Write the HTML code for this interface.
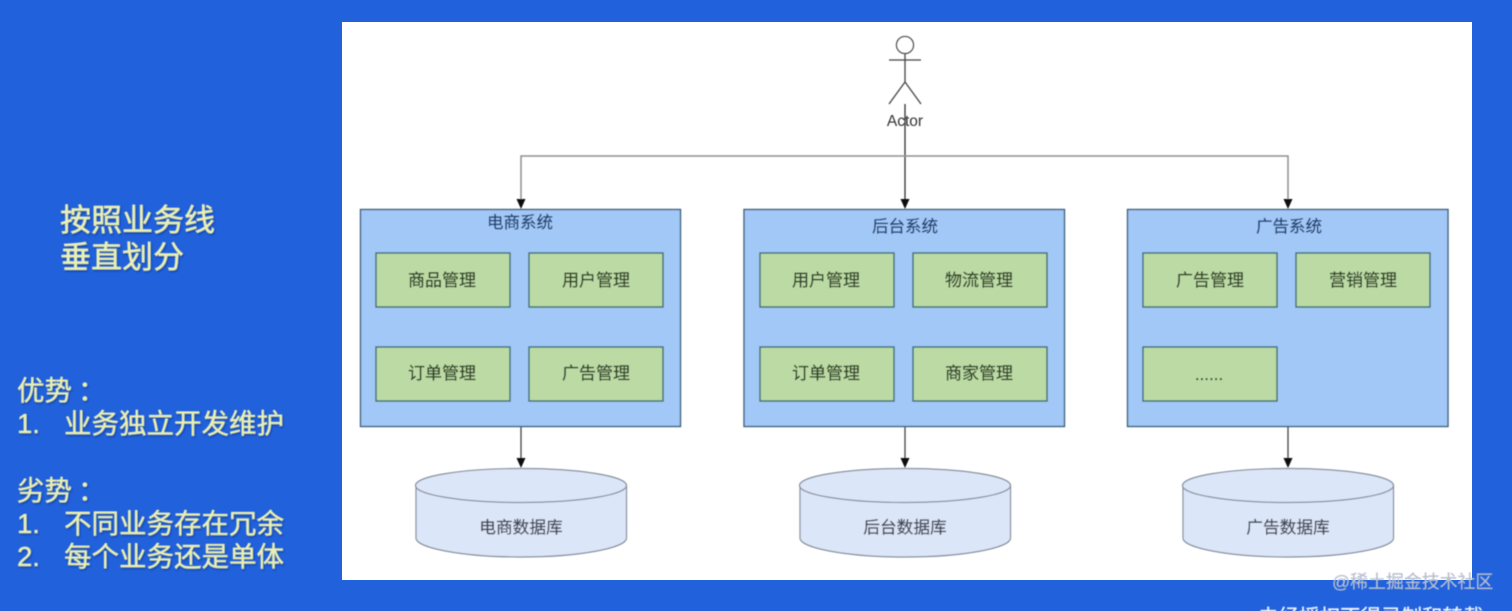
<!DOCTYPE html>
<html lang="zh">
<head>
<meta charset="utf-8">
<style>
html,body{margin:0;padding:0;width:1512px;height:611px;overflow:hidden;background:#2161dc}
svg{display:block;position:absolute;left:0;top:0}
text{font-family:"Liberation Sans","Noto Sans CJK SC",sans-serif}
.lt{fill:#e9f0b4;font-size:27.500px;stroke:#e9f0b4;stroke-width:.35px}
.ti{fill:#e9f0b4;font-size:31px;stroke:#e9f0b4;stroke-width:.45px}
.sh{filter:url(#shadow)}
.sys{fill:#1d3f6e;font-size:16.500px;text-anchor:middle;stroke:#1d3f6e;stroke-width:.25px}
.mod{fill:#2f4028;font-size:17px;text-anchor:middle;stroke:#2f4028;stroke-width:.25px}
.db{fill:#3f4450;font-size:16.700px;text-anchor:middle;stroke:#3f4450;stroke-width:.2px}
</style>
</head>
<body>
<svg width="1512" height="611" viewBox="0 0 1512 611" xmlns="http://www.w3.org/2000/svg">
<defs>
<filter id="shadow" x="-5%" y="-5%" width="110%" height="110%">
<feGaussianBlur in="SourceAlpha" stdDeviation="1.100" result="bl"/>
<feOffset in="bl" dx="1" dy="1.500" result="off"/>
<feFlood flood-color="#0b2d70" flood-opacity="0.6"/>
<feComposite in2="off" operator="in" result="shade"/>
<feGaussianBlur in="SourceGraphic" stdDeviation="0.4" result="txt"/>
<feMerge><feMergeNode in="shade"/><feMergeNode in="txt"/></feMerge>
</filter>
<filter id="b" x="-5%" y="-5%" width="110%" height="110%"><feGaussianBlur stdDeviation="0.45"/></filter>
</defs>
<rect x="0" y="0" width="1512" height="611" fill="#2161dc"/>
<rect x="342" y="22" width="1130" height="558" fill="#ffffff"/>

<g class="sh">
<text class="ti" x="60" y="231">按照业务线</text>
<text class="ti" x="60" y="268">垂直划分</text>

<text class="lt" x="17" y="400">优势</text>
<text class="lt" x="78" y="400">：</text>
<text class="lt" x="17" y="433">1.</text>
<text class="lt" x="64" y="433">业务独立开发维护</text>
<text class="lt" x="17" y="500">劣势</text>
<text class="lt" x="78" y="500">：</text>
<text class="lt" x="17" y="533">1.</text>
<text class="lt" x="64" y="533">不同业务存在冗余</text>
<text class="lt" x="17" y="566">2.</text>
<text class="lt" x="64" y="566">每个业务还是单体</text>
</g>

<g filter="url(#b)">
<!-- Actor -->
<circle cx="905" cy="45" r="8.500" fill="#fff" stroke="#444" stroke-width="1.300"/>
<path d="M905 54V82M889 60H921M905 82L889 104M905 82L921 104" fill="none" stroke="#444" stroke-width="1.300"/>
<text x="905" y="126" font-size="15.500" fill="#333" text-anchor="middle">Actor</text>

<!-- Connectors -->
<path d="M905 104V202" fill="none" stroke="#333" stroke-width="1.300"/>
<path d="M521 200V156H1288V200" fill="none" stroke="#8f8f8f" stroke-width="1.500"/>
<path d="M516.500 199L521 209L525.500 199Z" fill="#111"/>
<path d="M900.500 199L905 209L909.500 199Z" fill="#111"/>
<path d="M1283.500 199L1288 209L1292.500 199Z" fill="#111"/>

<path d="M521 427V460M905 427V460M1288 427V460" fill="none" stroke="#444" stroke-width="1.300"/>
<path d="M516.500 458L521 468L525.500 458Z" fill="#111"/>
<path d="M900.500 458L905 468L909.500 458Z" fill="#111"/>
<path d="M1283.500 458L1288 468L1292.500 458Z" fill="#111"/>

<!-- System boxes -->
<rect x="360.500" y="209.500" width="320" height="217" fill="#a2c8f8" stroke="#3d5f7c" stroke-width="1.400"/>
<rect x="744" y="209.500" width="320.500" height="217" fill="#a2c8f8" stroke="#3d5f7c" stroke-width="1.400"/>
<rect x="1127.500" y="209.500" width="320.500" height="217" fill="#a2c8f8" stroke="#3d5f7c" stroke-width="1.400"/>

<text class="sys" x="520" y="228">电商系统</text>
<text class="sys" x="905" y="232">后台系统</text>
<text class="sys" x="1289" y="232">广告系统</text>

<!-- Modules -->
<g fill="#bcdba4" stroke="#3f7078" stroke-width="1.500">
<rect x="376" y="253" width="134" height="54"/>
<rect x="529" y="253" width="134" height="54"/>
<rect x="376" y="347" width="134" height="54"/>
<rect x="529" y="347" width="134" height="54"/>
<rect x="760" y="253" width="134" height="54"/>
<rect x="913" y="253" width="134" height="54"/>
<rect x="760" y="347" width="134" height="54"/>
<rect x="913" y="347" width="134" height="54"/>
<rect x="1143" y="253" width="134" height="54"/>
<rect x="1296" y="253" width="134" height="54"/>
<rect x="1143" y="347" width="134" height="54"/>
</g>
<text class="mod" x="442" y="286">商品管理</text>
<text class="mod" x="596" y="286">用户管理</text>
<text class="mod" x="442" y="379">订单管理</text>
<text class="mod" x="596" y="379">广告管理</text>
<text class="mod" x="826" y="286">用户管理</text>
<text class="mod" x="979" y="286">物流管理</text>
<text class="mod" x="826" y="379">订单管理</text>
<text class="mod" x="979" y="379">商家管理</text>
<text class="mod" x="1210" y="286">广告管理</text>
<text class="mod" x="1363" y="286">营销管理</text>
<text class="mod" x="1209" y="380">......</text>

<!-- Databases -->
<g fill="#dbe6f8" stroke="#858e9e" stroke-width="1.200">
<path d="M416 485V538C416 548 463 557 521 557S626.500 548 626.500 538V485"/>
<ellipse cx="521" cy="485.500" rx="105.500" ry="17"/>
<path d="M800 485V538C800 548 847 557 905 557S1010.500 548 1010.500 538V485"/>
<ellipse cx="905" cy="485.500" rx="105.500" ry="17"/>
<path d="M1183 485V538C1183 548 1230 557 1288 557S1393.500 548 1393.500 538V485"/>
<ellipse cx="1288" cy="485.500" rx="105.500" ry="17"/>
</g>
<text class="db" x="521" y="533">电商数据库</text>
<text class="db" x="905" y="533">后台数据库</text>
<text class="db" x="1288" y="533">广告数据库</text>

<!-- Watermarks -->
<text x="1332" y="588" font-size="17.900" fill="#b7bfcf" stroke="#b7bfcf" stroke-width=".2">@稀土掘金技术社区</text>
<text x="1258" y="624" font-size="20.500" fill="#eef2f8" stroke="#eef2f8" stroke-width=".3">未经授权不得录制和转载</text>
</g>
</svg>
</body>
</html>
